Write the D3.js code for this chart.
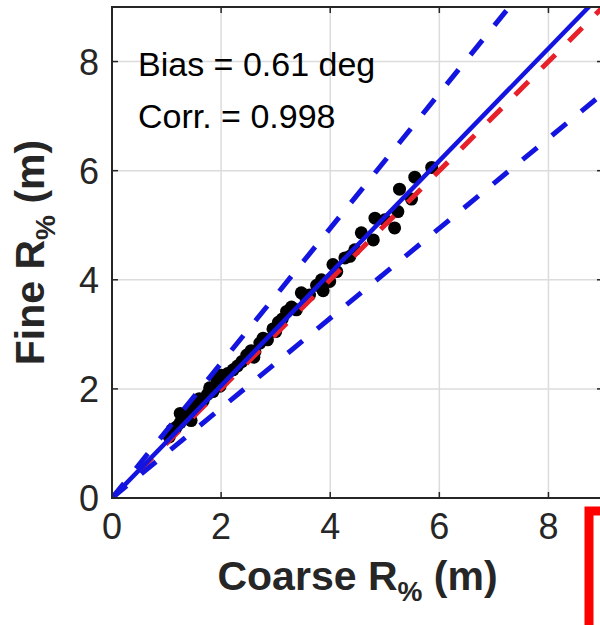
<!DOCTYPE html>
<html>
<head>
<meta charset="utf-8">
<script src="https://cdn.jsdelivr.net/npm/d3@7"></script>
<style>
  html, body { margin: 0; padding: 0; background: #fff; }
  svg { display: block; font-family: "Liberation Sans", Arial, sans-serif; }
</style>
</head>
<body>
<svg id="chart" width="600" height="625"></svg>
<script>
// Coarse vs fine R% scatter (metres)
const coarse = [1.05, 1.10, 1.18, 1.25, 1.30, 1.37, 1.46, 1.55, 1.60, 1.67, 1.75, 1.79, 1.85, 1.92, 1.98,
  2.05, 2.12, 2.22, 2.30, 2.38, 2.47, 2.55, 2.62, 2.71, 2.77, 2.85, 2.95, 3.05, 3.12, 3.20,
  3.29, 3.38, 3.47, 3.55, 3.62, 3.75, 3.84, 3.87, 3.99, 4.05, 4.12, 4.27, 4.36, 4.45, 4.57,
  4.79, 4.82, 5.00, 5.18, 5.24, 5.27, 5.49, 5.55, 5.86, 1.25, 2.00, 2.60, 3.00, 1.45];
const fine = [1.12, 1.25, 1.30, 1.38, 1.49, 1.52, 1.62, 1.70, 1.82, 1.78, 1.90, 2.02, 1.95, 2.17, 2.05,
  2.20, 2.28, 2.35, 2.42, 2.50, 2.62, 2.70, 2.68, 2.84, 2.93, 2.90, 3.10, 3.22, 3.28, 3.42,
  3.50, 3.45, 3.76, 3.68, 3.72, 3.90, 4.00, 3.80, 3.97, 4.28, 4.15, 4.40, 4.43, 4.55, 4.86,
  4.73, 5.13, 5.10, 4.95, 5.25, 5.66, 5.48, 5.88, 6.06, 1.55, 2.25, 2.58, 3.05, 1.42];

const xTicks = [0, 2, 4, 6, 8];
const yTicks = [0, 2, 4, 6, 8];
const fitSlope = 1.03;            // regression through the origin
const bandFactors = [1.2, 0.8];   // +/-20% envelope around the fit
const statLines = ["Bias = 0.61 deg", "Corr. = 0.998"];

const svg = d3.select("#chart");
const plotLeft = 112, plotTop = 7, plotSize = 491;
const x = d3.scaleLinear().domain([0, 9]).range([plotLeft, plotLeft + plotSize]);
const y = d3.scaleLinear().domain([0, 9]).range([plotTop + plotSize, plotTop]);

const axisColor = "#262626";
const blue = "#1414e0";
const red = "#e8202a";

svg.append("defs").append("clipPath").attr("id", "plotClip")
  .append("rect").attr("x", x(0)).attr("y", y(9)).attr("width", x(9) - x(0)).attr("height", y(0) - y(9));

// grid
const grid = svg.append("g").attr("stroke", "#dcdcdc").attr("stroke-width", 1.5);
xTicks.filter(d => d > 0).forEach(d => grid.append("line")
  .attr("x1", x(d)).attr("x2", x(d)).attr("y1", y(0)).attr("y2", y(9)));
yTicks.filter(d => d > 0).forEach(d => grid.append("line")
  .attr("y1", y(d)).attr("y2", y(d)).attr("x1", x(0)).attr("x2", x(9)));

const plot = svg.append("g").attr("clip-path", "url(#plotClip)");

// scatter points
const pts = coarse.map((c, i) => [c, fine[i]]);
plot.append("g").selectAll("circle").data(pts).join("circle")
  .attr("cx", d => x(d[0])).attr("cy", d => y(d[1])).attr("r", 6.5).attr("fill", "#000");

const line = d3.line().x(d => x(d[0])).y(d => y(d[1]));
const ray = k => [[0, 0], [12, 12 * k]];

// 1:1 reference
plot.append("path").datum(ray(1)).attr("d", line)
  .attr("fill", "none").attr("stroke", red).attr("stroke-width", 5)
  .attr("stroke-dasharray", "19,19");

// envelope
bandFactors.forEach(f => plot.append("path").datum(ray(fitSlope * f)).attr("d", line)
  .attr("fill", "none").attr("stroke", blue).attr("stroke-width", 5)
  .attr("stroke-dasharray", "19,19"));

// fit
plot.append("path").datum(ray(fitSlope)).attr("d", line)
  .attr("fill", "none").attr("stroke", blue).attr("stroke-width", 4.5);

// axes box and inward ticks
const axes = svg.append("g");
axes.append("rect").attr("x", x(0)).attr("y", y(9)).attr("width", x(9) - x(0)).attr("height", y(0) - y(9))
  .attr("fill", "none").attr("stroke", axisColor).attr("stroke-width", 2);
const tl = 6;
xTicks.forEach(d => {
  axes.append("line").attr("x1", x(d)).attr("x2", x(d)).attr("y1", y(0)).attr("y2", y(0) - tl)
    .attr("stroke", axisColor).attr("stroke-width", 1.5);
  axes.append("line").attr("x1", x(d)).attr("x2", x(d)).attr("y1", y(9)).attr("y2", y(9) + tl)
    .attr("stroke", axisColor).attr("stroke-width", 1.5);
  axes.append("text").attr("x", x(d)).attr("y", y(0) + 41).attr("text-anchor", "middle")
    .attr("font-size", 36).attr("fill", axisColor).text(d);
});
yTicks.forEach(d => {
  axes.append("line").attr("x1", x(0)).attr("x2", x(0) + tl).attr("y1", y(d)).attr("y2", y(d))
    .attr("stroke", axisColor).attr("stroke-width", 1.5);
  axes.append("line").attr("x1", x(9)).attr("x2", x(9) - tl).attr("y1", y(d)).attr("y2", y(d))
    .attr("stroke", axisColor).attr("stroke-width", 1.5);
  axes.append("text").attr("x", x(0) - 13).attr("y", y(d)).attr("dy", "0.36em").attr("text-anchor", "end")
    .attr("font-size", 36).attr("fill", axisColor).text(d);
});

// statistics
statLines.forEach((s, i) => svg.append("text").attr("x", 138).attr("y", 76 + i * 52)
  .attr("font-size", 34).attr("fill", "#000").text(s));

// axis titles
function title(g, main, tail) {
  g.attr("font-size", 41).attr("font-weight", "bold").attr("fill", axisColor).attr("text-anchor", "middle");
  const t = g.append("text");
  t.append("tspan").text(main);
  t.append("tspan").attr("font-size", 28).attr("dy", 11).text("%");
  t.append("tspan").attr("dy", -11).text(" " + tail);
  return t;
}
title(svg.append("g").attr("transform", `translate(${(x(0) + x(9)) / 2},${590})`), "Coarse R", "(m)");
title(svg.append("g").attr("transform", `translate(${44},${(y(0) + y(9)) / 2}) rotate(-90)`), "Fine R", "(m)");

// highlight frame at lower right
svg.append("rect").attr("x", 589).attr("y", 511).attr("width", 120).attr("height", 200)
  .attr("fill", "#fff").attr("stroke", "#ff0000").attr("stroke-width", 9);
</script>
</body>
</html>
